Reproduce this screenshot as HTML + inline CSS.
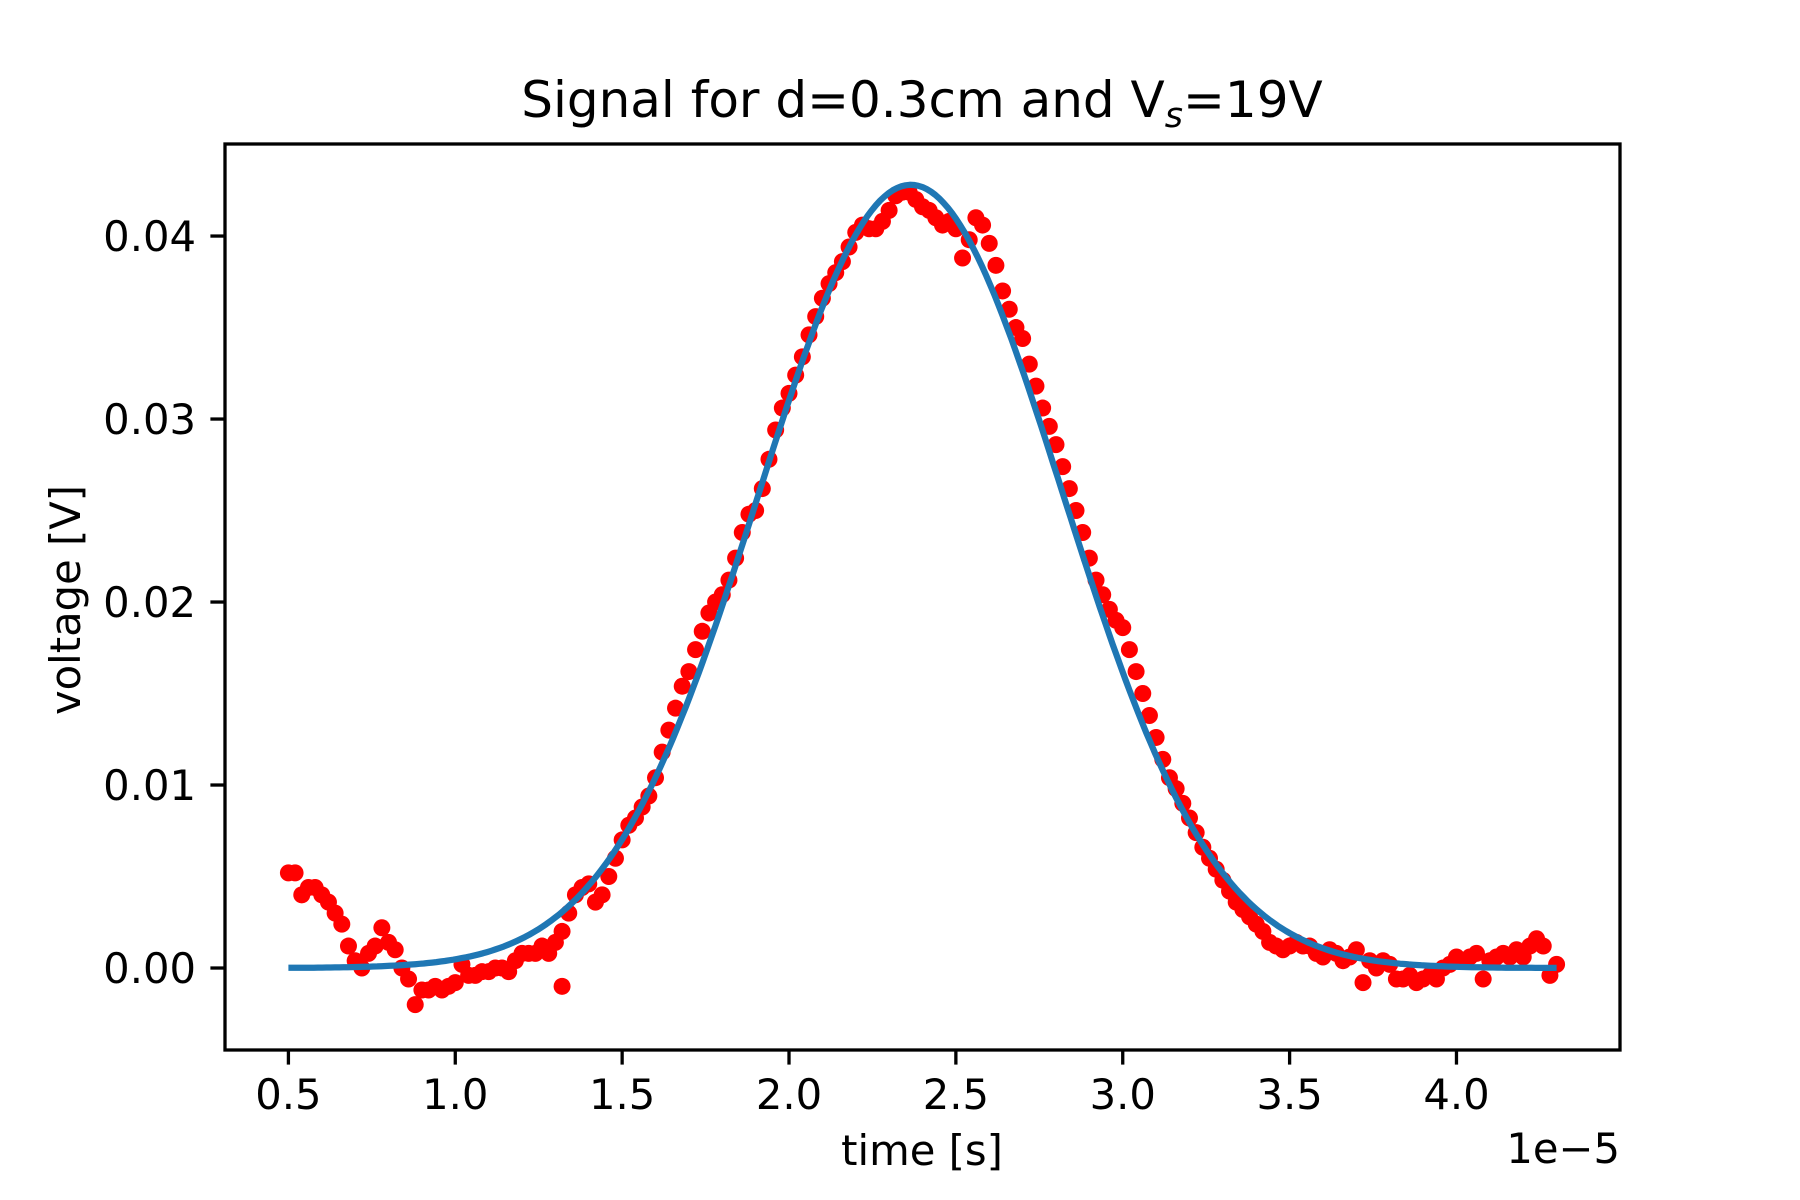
<!DOCTYPE html>
<html><head><meta charset="utf-8"><style>
html,body{margin:0;padding:0;background:#fff;}
svg{display:block;font-family:"DejaVu Sans","Liberation Sans",sans-serif;}
</style></head><body>
<svg id="chart" width="1800" height="1200" viewBox="0 0 1800 1200" xmlns="http://www.w3.org/2000/svg">
<rect x="0" y="0" width="1800" height="1200" fill="#fff"/>
<text x="922" y="117" font-size="50" text-anchor="middle">Signal for d=0.3cm and V<tspan font-size="35" font-style="italic" dy="10">s</tspan><tspan dy="-10">=19V</tspan></text>
<g id="plot"></g>
<text x="922" y="1165" font-size="41.7" text-anchor="middle">time [s]</text>
<text x="1620" y="1163" font-size="41.7" text-anchor="end">1e−5</text>
<text transform="translate(80,600) rotate(-90)" font-size="41.7" text-anchor="middle">voltage [V]</text>
</svg>
<script>
const xStart = 0.5, xStep = 0.02;
const voltages = [0.0052,0.0052,0.0040,0.0044,0.0044,0.0040,0.0036,0.0030,0.0024,0.0012,0.0004,0.0000,0.0008,0.0012,0.0022,0.0014,0.0010,0.0000,-0.0006,-0.0020,-0.0012,-0.0012,-0.0010,-0.0012,-0.0010,-0.0008,0.0002,-0.0004,-0.0004,-0.0002,-0.0002,0.0000,0.0000,-0.0002,0.0004,0.0008,0.0008,0.0008,0.0012,0.0008,0.0014,0.0020,0.0030,0.0040,0.0044,0.0046,0.0036,0.0040,0.0050,0.0060,0.0070,0.0078,0.0082,0.0088,0.0094,0.0104,0.0118,0.0130,0.0142,0.0154,0.0162,0.0174,0.0184,0.0194,0.0200,0.0204,0.0212,0.0224,0.0238,0.0248,0.0250,0.0262,0.0278,0.0294,0.0306,0.0314,0.0324,0.0334,0.0346,0.0356,0.0366,0.0374,0.0380,0.0386,0.0394,0.0402,0.0406,0.0404,0.0404,0.0408,0.0414,0.0422,0.0424,0.0424,0.0420,0.0416,0.0414,0.0410,0.0406,0.0408,0.0404,0.0388,0.0398,0.0410,0.0406,0.0396,0.0384,0.0370,0.0360,0.0350,0.0344,0.0330,0.0318,0.0306,0.0296,0.0286,0.0274,0.0262,0.0250,0.0238,0.0224,0.0212,0.0204,0.0196,0.0190,0.0186,0.0174,0.0162,0.0150,0.0138,0.0126,0.0114,0.0104,0.0098,0.0090,0.0082,0.0074,0.0066,0.0060,0.0054,0.0048,0.0042,0.0036,0.0032,0.0028,0.0024,0.0020,0.0014,0.0012,0.0010,0.0012,0.0014,0.0012,0.0012,0.0008,0.0006,0.0010,0.0008,0.0004,0.0006,0.0010,-0.0008,0.0004,0.0000,0.0004,0.0002,-0.0006,-0.0006,-0.0004,-0.0008,-0.0006,-0.0004,-0.0006,0.0000,0.0002,0.0006,0.0004,0.0006,0.0008,-0.0006,0.0004,0.0006,0.0008,0.0006,0.0010,0.0006,0.0012,0.0016,0.0012,-0.0004,0.0002];
const outlierTimes = [1.32];
const outlierVoltages = [-0.0010];
const fitAmplitude = [0.0428];
const fitCenter = [2.365];
const fitSigma = [0.455];
const xTicks = [0.5,1.0,1.5,2.0,2.5,3.0,3.5,4.0];
const xTickLabels = ["0.5","1.0","1.5","2.0","2.5","3.0","3.5","4.0"];
const yTicks = [0.00,0.01,0.02,0.03,0.04];
const yTickLabels = ["0.00","0.01","0.02","0.03","0.04"];

const L=225,R=1620,T=144,B=1050;
const xMin=0.31,xMax=4.49,yMin=-0.00448,yMax=0.04503;
const sx=v=>L+(v-xMin)/(xMax-xMin)*(R-L);
const sy=v=>B-(v-yMin)/(yMax-yMin)*(B-T);
const NS="http://www.w3.org/2000/svg";
const g=document.getElementById('plot');
function mk(t,a){const e=document.createElementNS(NS,t);for(const k in a)e.setAttribute(k,a[k]);return e;}

const pts=mk('g',{});


g.appendChild(pts);
voltages.forEach((v,i)=>{
  const c=mk('circle',{cx:sx(xStart+i*xStep),cy:sy(v),r:8.5,fill:'#ff0000'});
  
  
  pts.appendChild(c);
});
outlierTimes.forEach((t,i)=>{
  const c=mk('circle',{cx:sx(t),cy:sy(outlierVoltages[i]),r:8.5,fill:'#ff0000'});
  
  
  pts.appendChild(c);
});

let d='';
const x0=xStart, x1=xStart+(voltages.length-1)*xStep;
for(let i=0;i<=300;i++){
  const x=x0+(x1-x0)*i/300;
  const y=fitAmplitude[0]*Math.exp(-Math.pow(x-fitCenter[0],2)/(2*fitSigma[0]*fitSigma[0]));
  d+=(i?'L':'M')+sx(x).toFixed(1)+','+sy(y).toFixed(1);
}
const fit=mk('path',{d:d,fill:'none',stroke:'#1f77b4','stroke-width':6.25,'stroke-linejoin':'round'});


g.appendChild(fit);

const frame=mk('rect',{x:L,y:T,width:R-L,height:B-T,fill:'none',stroke:'#000','stroke-width':3.3});


g.appendChild(frame);

xTicks.forEach((v,i)=>{
  const x=sx(v);
  const t=mk('line',{x1:x,x2:x,y1:B,y2:B+14.6,stroke:'#000','stroke-width':3.3});
  
  
  g.appendChild(t);
  const l=mk('text',{x:x,y:B+59,'font-size':41.7,'text-anchor':'middle'});
  l.textContent=xTickLabels[i];
  
  
  g.appendChild(l);
});
yTicks.forEach((v,i)=>{
  const y=sy(v);
  const t=mk('line',{x1:L-14.6,x2:L,y1:y,y2:y,stroke:'#000','stroke-width':3.3});
  
  
  g.appendChild(t);
  const l=mk('text',{x:L-29,y:y+15,'font-size':41.7,'text-anchor':'end'});
  l.textContent=yTickLabels[i];
  
  
  g.appendChild(l);
});
</script>
</body></html>
